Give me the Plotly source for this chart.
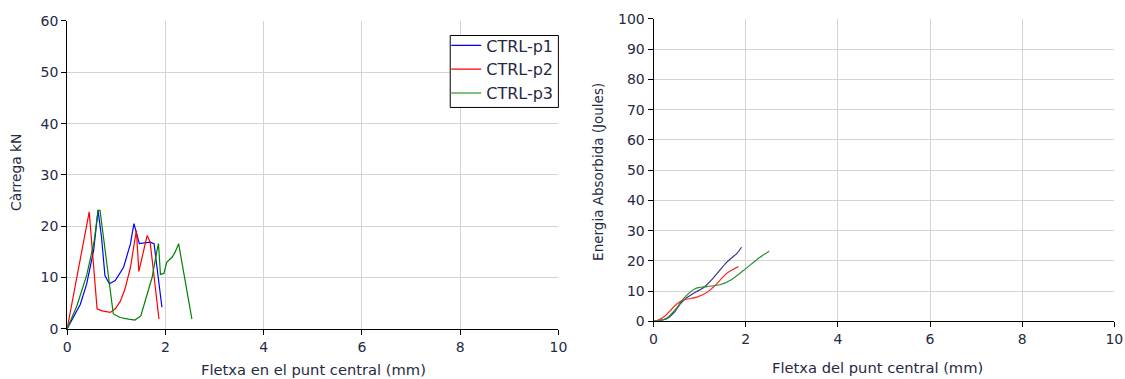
import plotly.graph_objects as go

# ---------------- data: load vs deflection (left) ----------------
p1_x = [0, 0.13, 0.27, 0.40, 0.54, 0.63, 0.70, 0.77, 0.86, 0.98, 1.15, 1.29, 1.36, 1.47, 1.55, 1.69, 1.77, 1.93]
p1_y = [0, 2.2, 4.8, 8.8, 15.3, 23.1, 17.9, 10.4, 8.8, 9.4, 12.0, 16.6, 20.5, 16.6, 16.7, 16.9, 16.6, 4.2]

p2_x = [0, 0.45, 0.61, 0.71, 0.88, 0.98, 1.08, 1.18, 1.29, 1.36, 1.41, 1.46, 1.63, 1.69, 1.87]
p2_y = [0, 22.8, 3.9, 3.5, 3.2, 3.9, 5.3, 7.8, 12.0, 16.0, 19.2, 11.2, 18.2, 16.9, 1.9]

p3_x = [0, 0.2, 0.4, 0.55, 0.63, 0.67, 0.94, 1.08, 1.25, 1.38, 1.5, 1.59, 1.73, 1.83, 1.86, 1.90, 1.97, 2.03, 2.14, 2.2, 2.27, 2.54]
p3_y = [0, 4.5, 10.5, 17.0, 23.1, 23.1, 2.9, 2.2, 1.9, 1.7, 2.5, 5.5, 10.0, 15.3, 16.6, 10.6, 10.8, 13.0, 14.0, 15.0, 16.6, 1.9]

# ---------------- data: absorbed energy vs deflection (right) ----------------
e1_x = [0, 0.15, 0.29, 0.45, 0.58, 0.72, 0.87, 1.08, 1.3, 1.59, 1.81, 1.91]
e1_y = [0, 0.3, 0.9, 3.0, 5.8, 7.8, 9.3, 11.1, 14.4, 19.6, 22.5, 24.5]

e2_x = [0, 0.1, 0.22, 0.36, 0.51, 0.65, 0.94, 1.19, 1.37, 1.59, 1.84]
e2_y = [0, 0.4, 1.4, 3.5, 5.8, 7.1, 8.0, 9.9, 12.4, 15.9, 18.1]

e3_x = [0, 0.15, 0.3, 0.48, 0.65, 0.9, 1.16, 1.44, 1.66, 1.95, 2.31, 2.51]
e3_y = [0, 0.3, 1.2, 4.0, 7.5, 10.8, 11.5, 12.1, 13.5, 16.8, 21.2, 23.2]

names = ["CTRL-p1", "CTRL-p2", "CTRL-p3"]

TXT = "#1f2a44"
FONT = "DejaVu Sans, Verdana, sans-serif"

W, H = 1141, 395
SX, OX, SY, OY = 0.987, 4.5, 0.96, 7.5


def px(v):
    return ((v - OX) / SX) / W


def py(v):
    return 1 - ((v - OY) / SY) / H


fig = go.Figure()
left_cols = ["#0000ff", "#ff0000", "#008000"]
for xs, ys, c, n in zip([p1_x, p2_x, p3_x], [p1_y, p2_y, p3_y], left_cols, names):
    fig.add_trace(go.Scatter(x=xs, y=ys, mode="lines", name=n,
                             line=dict(color=c, width=1.2), xaxis="x", yaxis="y"))

right_cols = ["#34348f", "#ff2a2a", "#2e8b2e"]
for xs, ys, c, n in zip([e1_x, e2_x, e3_x], [e1_y, e2_y, e3_y], right_cols, names):
    fig.add_trace(go.Scatter(x=xs, y=ys, mode="lines", name=n, showlegend=False,
                             line=dict(color=c, width=1.2, shape="spline", smoothing=0.8),
                             xaxis="x2", yaxis="y2"))

ax_common = dict(showline=True, linecolor="black", linewidth=1, ticks="outside",
                 ticklen=5, tickcolor="black", showgrid=True, gridcolor="#d4d4d4",
                 gridwidth=1, zeroline=False, tickfont=dict(family=FONT, size=14, color=TXT))

fig.update_layout(
    width=W, height=H,
    margin=dict(l=0, r=0, t=0, b=0),
    paper_bgcolor="white", plot_bgcolor="white",
    font=dict(family=FONT, size=14, color=TXT),
    xaxis=dict(domain=[px(67.5), px(558)], range=[0, 10], dtick=2, anchor="y", **ax_common),
    yaxis=dict(domain=[py(328.5), py(20.5)], range=[0, 60], dtick=10, anchor="x", **ax_common),
    xaxis2=dict(domain=[px(653), px(1113)], range=[0, 10], dtick=2, anchor="y2", **ax_common),
    yaxis2=dict(domain=[py(321), py(18.5)], range=[0, 100], dtick=10, anchor="x2", **ax_common),
    legend=dict(x=px(446), y=py(28), xanchor="left", yanchor="top",
                borderwidth=0, bgcolor="rgba(0,0,0,0)",
                font=dict(family=FONT, size=16, color=TXT),
                itemwidth=30, tracegroupgap=0),
    showlegend=True,
)

# legend frame
fig.add_shape(type="rect", xref="paper", yref="paper",
              x0=px(450), x1=px(558), y0=py(107), y1=py(35),
              line=dict(color="black", width=1), fillcolor="white", layer="above")

annots = [
    dict(text="Fletxa en el punt central (mm)", x=px(313), y=py(369), size=14.7),
    dict(text="Fletxa del punt central (mm)", x=px(877), y=py(367), size=14.7),
    dict(text="Càrrega kN", x=px(17), y=py(172), textangle=-90, size=13.8),
    dict(text="Energia Absorbida (Joules)", x=px(598), y=py(171), textangle=-90, size=13.5),
]
for a in annots:
    sz = a.pop("size")
    fig.add_annotation(xref="paper", yref="paper", showarrow=False,
                       xanchor="center", yanchor="middle",
                       font=dict(family=FONT, size=sz, color=TXT), **a)

fig.write_html("out.html")
